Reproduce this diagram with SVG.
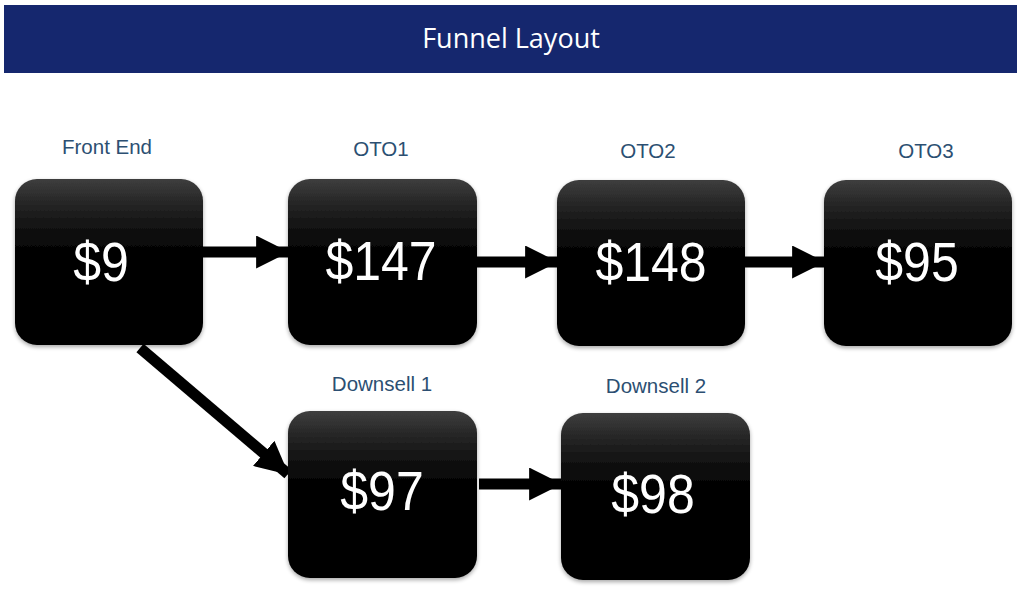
<svg xmlns="http://www.w3.org/2000/svg" width="1024" height="595" viewBox="0 0 1024 595">
<defs>
<linearGradient id="boxg" x1="0" y1="0" x2="0" y2="1">
<stop offset="0" stop-color="#3e3e3e"/>
<stop offset="0.12" stop-color="#2a2a2a"/>
<stop offset="0.25" stop-color="#171717"/>
<stop offset="0.38" stop-color="#080808"/>
<stop offset="0.5" stop-color="#000"/>
<stop offset="1" stop-color="#000"/>
</linearGradient>
<filter id="sh" x="-10%" y="-10%" width="120%" height="125%">
<feGaussianBlur in="SourceAlpha" stdDeviation="2"/>
<feOffset dy="2" result="b"/>
<feComponentTransfer><feFuncA type="linear" slope="0.35"/></feComponentTransfer>
<feMerge><feMergeNode/><feMergeNode in="SourceGraphic"/></feMerge>
</filter>
<marker id="ah" markerWidth="3" markerHeight="3" refX="2.9" refY="1.5" orient="auto" markerUnits="strokeWidth">
<path d="M0,0 L3,1.5 L0,3 Z" fill="#000"/>
</marker>
</defs>
<style>
.box{fill:url(#boxg);filter:url(#sh)}
.lbl{font-family:"Liberation Sans",Arial,sans-serif;font-size:20.5px;fill:#2c4f72;text-anchor:middle}
.price{font-family:"Liberation Sans",Arial,sans-serif;font-size:50px;fill:#fff;text-anchor:middle}
.conn{stroke:#000;stroke-width:11;fill:none;marker-end:url(#ah)}
</style>
<rect width="1024" height="595" fill="#fff"/>
<g id="header">
<rect x="4" y="5" width="1013" height="68" fill="#15276e"/>
<text x="511" y="48" font-family="'Open Sans',sans-serif" font-size="27" fill="#fff" text-anchor="middle">Funnel Layout</text>
</g>
<g id="connectors">
<line class="conn" x1="203" y1="252" x2="288" y2="252"/>
<line class="conn" x1="477" y1="262" x2="557" y2="262"/>
<line class="conn" x1="745" y1="262" x2="824" y2="262"/>
<line class="conn" x1="479" y1="484" x2="561" y2="484"/>
<line class="conn" x1="140" y1="348" x2="288" y2="474"/>
</g>
<g id="front-end">
<text class="lbl" x="107" y="154">Front End</text>
<rect class="box" x="15" y="179" width="188" height="166" rx="22"/>
<text class="price" x="101" y="281" transform="translate(0,-28) scale(1,1.1)">$9</text>
</g>
<g id="oto1">
<text class="lbl" x="381" y="156">OTO1</text>
<rect class="box" x="288" y="179" width="189" height="166" rx="22"/>
<text class="price" x="381" y="280" transform="translate(0,-28) scale(1,1.1)">$147</text>
</g>
<g id="oto2">
<text class="lbl" x="648" y="158">OTO2</text>
<rect class="box" x="557" y="180" width="188" height="166" rx="22"/>
<text class="price" x="651" y="281" transform="translate(0,-28) scale(1,1.1)">$148</text>
</g>
<g id="oto3">
<text class="lbl" x="926" y="158">OTO3</text>
<rect class="box" x="824" y="180" width="188" height="166" rx="22"/>
<text class="price" x="917" y="281" transform="translate(0,-28) scale(1,1.1)">$95</text>
</g>
<g id="downsell1">
<text class="lbl" x="382" y="391">Downsell 1</text>
<rect class="box" x="288" y="411" width="189" height="167" rx="22"/>
<text class="price" x="382" y="510" transform="translate(0,-51) scale(1,1.1)">$97</text>
</g>
<g id="downsell2">
<text class="lbl" x="656" y="393">Downsell 2</text>
<rect class="box" x="561" y="413" width="189" height="167" rx="22"/>
<text class="price" x="653" y="513" transform="translate(0,-51) scale(1,1.1)">$98</text>
</g>
</svg>
